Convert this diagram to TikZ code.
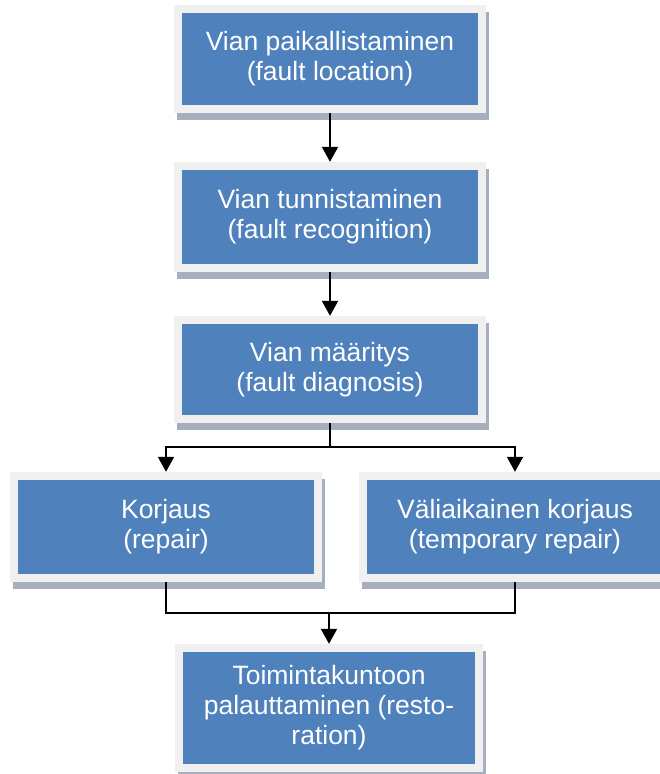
\documentclass[tikz,border=0pt]{standalone}
\usepackage{fontspec}
\setmainfont{Liberation Sans}
\usepackage{tikz}
\usetikzlibrary{shadows}
\usetikzlibrary{positioning}
\usetikzlibrary{arrows.meta}
\usepackage{xcolor}
\definecolor{boxblue}{HTML}{4F81BD}
\definecolor{framegray}{HTML}{F0F0F0}
\definecolor{shadowgray}{HTML}{A7AFBF}

\begin{document}
\begin{tikzpicture}[x=1pt, y=-1pt]
      \tikzstyle{phase}=[rectangle, fill=framegray, minimum width=312pt, inner sep=0pt, align=center,
        text=white, font={\fontsize{26.5}{30}\selectfont},
        drop shadow={shadow xshift=3pt, shadow yshift=-7pt, fill=shadowgray, opacity=1},
        path picture={\fill[boxblue] ([shift={(8pt,-8pt)}]path picture bounding box.north west)
          rectangle ([shift={(-8pt,8pt)}]path picture bounding box.south east);}]
      \tikzstyle{flow}=[line width=2pt, -{Triangle[width=16pt, length=15pt]}]

      \useasboundingbox (0,0) rectangle (659,774);

      \node[phase, minimum height=108pt] (locate) at (330, 59) {Vian paikallistaminen\\(fault location)};
      \node[phase, minimum height=110pt] (recog) at (330, 217) {Vian tunnistaminen\\(fault recognition)};
      \node[phase, minimum height=107pt] (diag) at (330, 369.5) {Vian määritys\\(fault diagnosis)};

      \node[phase, minimum height=110pt] (repair) at (166, 527) {Korjaus\\(repair)};
      \node[phase, minimum height=110pt] (temprep) at (515, 527) {Väliaikainen korjaus\\(temporary repair)};

      \node[phase, minimum height=128pt, minimum width=308pt] (restore) at (329, 708) {Toimintakuntoon\\palauttaminen (resto-\\ration)};

      \draw[flow] (locate.south) -- (recog.north);
      \draw[flow] (recog.south) -- (diag.north);

      % split to the two repair options
      \coordinate[below=24pt of diag] (split);
      \draw[flow] (diag.south) -- (split) -| (repair.north);
      \draw[flow] (split) -| (temprep.north);

      % join back to restoration
      \coordinate[above=31pt of restore] (join);
      \draw[line width=2pt] (repair.south) |- (join) -| (temprep.south);
      \draw[flow] (join) -- (restore.north);
    \end{tikzpicture}
\end{document}
